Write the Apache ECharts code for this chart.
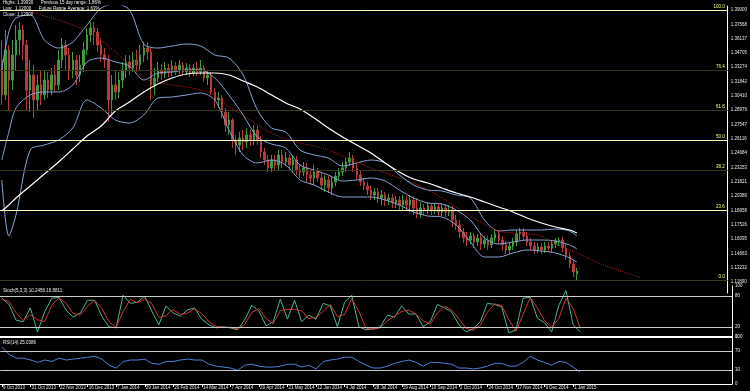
<!DOCTYPE html>
<html><head><meta charset="utf-8">
<script src="https://cdn.jsdelivr.net/npm/echarts@6/dist/echarts.min.js"></script>
<style>html,body{margin:0;padding:0;background:#000;}#c{width:750px;height:391px;}</style>
</head><body><div id="c"></div>
<script>
// ---- x axis date labels (one every 8 bars) ----
const dateLabels = ['9 Oct 2013','31 Oct 2013','22 Nov 2013','16 Dec 2013','7 Jan 2014','29 Jan 2014','20 Feb 2014','14 Mar 2014','7 Apr 2014','29 Apr 2014','21 May 2014','12 Jun 2014','4 Jul 2014','28 Jul 2014','19 Aug 2014','10 Sep 2014','2 Oct 2014','24 Oct 2014','17 Nov 2014','9 Dec 2014','1 Jan 2015'];
// ---- right price-scale tick labels ----
const priceTicks = [1.39000,1.37568,1.36137,1.34705,1.33274,1.31842,1.30410,1.28979,1.27547,1.26116,1.24684,1.23253,1.21821,1.20389,1.18958,1.17526,1.16095,1.14663,1.13232,1.11800];
// ---- candles: [open, close, low, high] ----
const candles = [
[1.340,1.305,1.295,1.360],[1.305,1.350,1.300,1.370],[1.350,1.320,1.290,1.355],[1.320,1.345,1.310,1.360],[1.345,1.360,1.330,1.375],
[1.360,1.370,1.345,1.378],[1.370,1.355,1.340,1.375],[1.355,1.310,1.290,1.360],[1.310,1.325,1.288,1.340],[1.325,1.300,1.282,1.335],
[1.300,1.315,1.290,1.325],[1.315,1.305,1.295,1.330],[1.305,1.320,1.300,1.330],[1.320,1.310,1.302,1.328],[1.310,1.325,1.305,1.332],
[1.325,1.315,1.308,1.335],[1.315,1.340,1.310,1.350],[1.340,1.355,1.332,1.362],[1.355,1.345,1.330,1.360],[1.345,1.330,1.320,1.352],
[1.330,1.340,1.322,1.348],[1.340,1.325,1.315,1.345],[1.325,1.335,1.318,1.345],[1.335,1.350,1.328,1.358],[1.350,1.365,1.345,1.372],
[1.365,1.372,1.358,1.378],[1.372,1.368,1.355,1.378],[1.368,1.355,1.348,1.372],[1.355,1.345,1.338,1.362],[1.345,1.340,1.332,1.352],
[1.340,1.300,1.278,1.345],[1.300,1.315,1.285,1.325],[1.315,1.308,1.300,1.330],[1.308,1.320,1.302,1.328],[1.320,1.330,1.312,1.338],
[1.330,1.338,1.322,1.345],[1.338,1.332,1.325,1.345],[1.332,1.340,1.328,1.348],[1.340,1.335,1.328,1.350],[1.335,1.345,1.330,1.355],
[1.345,1.352,1.338,1.358],[1.352,1.348,1.340,1.358],[1.348,1.315,1.300,1.352],[1.315,1.322,1.305,1.332],[1.322,1.330,1.318,1.338],
[1.330,1.326,1.320,1.336],[1.326,1.332,1.322,1.338],[1.332,1.328,1.323,1.336],[1.328,1.334,1.324,1.340],[1.334,1.330,1.325,1.338],
[1.330,1.335,1.326,1.340],[1.335,1.328,1.324,1.338],[1.328,1.332,1.325,1.337],[1.332,1.327,1.323,1.336],[1.327,1.332,1.324,1.336],
[1.332,1.328,1.324,1.338],[1.328,1.332,1.325,1.340],[1.332,1.322,1.318,1.335],[1.322,1.325,1.315,1.330],[1.325,1.308,1.305,1.328],
[1.308,1.300,1.292,1.312],[1.300,1.302,1.292,1.308],[1.302,1.288,1.282,1.305],[1.288,1.275,1.268,1.292],[1.275,1.280,1.265,1.288],
[1.280,1.260,1.252,1.282],[1.260,1.255,1.245,1.265],[1.255,1.262,1.248,1.268],[1.262,1.258,1.250,1.270],[1.258,1.265,1.252,1.272],
[1.265,1.260,1.254,1.270],[1.260,1.270,1.255,1.275],[1.270,1.260,1.255,1.274],[1.260,1.248,1.242,1.264],[1.248,1.240,1.235,1.252],
[1.240,1.232,1.228,1.245],[1.232,1.240,1.228,1.245],[1.240,1.235,1.230,1.245],[1.235,1.245,1.230,1.250],[1.245,1.238,1.232,1.250],
[1.238,1.242,1.234,1.248],[1.242,1.235,1.230,1.246],[1.235,1.240,1.228,1.245],[1.240,1.230,1.225,1.244],[1.230,1.228,1.222,1.235],
[1.228,1.232,1.224,1.238],[1.232,1.225,1.218,1.237],[1.225,1.222,1.215,1.230],[1.222,1.228,1.215,1.235],[1.228,1.222,1.218,1.232],
[1.222,1.215,1.210,1.228],[1.215,1.220,1.208,1.225],[1.220,1.212,1.207,1.224],[1.212,1.218,1.205,1.224],[1.218,1.224,1.214,1.228],
[1.224,1.228,1.220,1.232],[1.228,1.232,1.224,1.238],[1.232,1.238,1.228,1.242],[1.238,1.242,1.234,1.248],[1.242,1.232,1.228,1.245],
[1.232,1.225,1.220,1.236],[1.225,1.218,1.214,1.230],[1.218,1.214,1.210,1.222],[1.214,1.210,1.205,1.218],[1.210,1.205,1.200,1.214],
[1.205,1.208,1.200,1.212],[1.208,1.202,1.197,1.212],[1.202,1.205,1.195,1.210],[1.205,1.200,1.194,1.208],[1.200,1.202,1.195,1.206],
[1.202,1.197,1.192,1.206],[1.197,1.200,1.192,1.204],[1.200,1.195,1.190,1.204],[1.195,1.200,1.190,1.205],[1.200,1.195,1.190,1.204],
[1.195,1.200,1.188,1.205],[1.200,1.192,1.185,1.204],[1.192,1.186,1.182,1.202],[1.186,1.192,1.182,1.198],[1.192,1.190,1.185,1.196],
[1.190,1.194,1.186,1.198],[1.194,1.190,1.185,1.197],[1.190,1.193,1.186,1.197],[1.193,1.188,1.184,1.196],[1.188,1.192,1.184,1.197],
[1.192,1.188,1.183,1.196],[1.188,1.190,1.184,1.195],[1.190,1.180,1.173,1.194],[1.180,1.175,1.170,1.185],[1.175,1.168,1.162,1.180],
[1.168,1.162,1.157,1.172],[1.162,1.160,1.154,1.168],[1.160,1.164,1.156,1.168],[1.164,1.158,1.152,1.167],[1.158,1.162,1.154,1.166],
[1.162,1.156,1.150,1.166],[1.156,1.160,1.152,1.164],[1.160,1.155,1.150,1.164],[1.155,1.162,1.152,1.166],[1.162,1.166,1.158,1.170],
[1.166,1.160,1.156,1.170],[1.160,1.155,1.150,1.164],[1.155,1.150,1.146,1.159],[1.150,1.154,1.146,1.158],[1.154,1.158,1.150,1.162],
[1.158,1.166,1.154,1.170],[1.166,1.168,1.160,1.172],[1.168,1.164,1.160,1.172],[1.164,1.158,1.154,1.168],[1.158,1.154,1.150,1.162],
[1.154,1.150,1.146,1.158],[1.150,1.153,1.147,1.157],[1.153,1.150,1.146,1.157],[1.150,1.154,1.147,1.158],[1.154,1.152,1.148,1.158],
[1.152,1.156,1.148,1.160],[1.156,1.159,1.152,1.162],[1.159,1.160,1.154,1.163],[1.160,1.152,1.148,1.163],[1.152,1.144,1.140,1.156],
[1.144,1.136,1.132,1.148],[1.136,1.128,1.123,1.140],[1.126,1.129,1.120,1.132]
];
// ---- Bollinger bands and slow MA, read at these bar indices ----
const bandIdx = [0,2,4,8,12,16,20,24,28,32,36,40,44,48,52,56,60,64,68,72,76,80,84,88,92,96,100,104,108,112,116,120,124,128,132,136,140,144,148,152,156,160,162];
const bbUpper = [1.330,1.368,1.382,1.385,1.360,1.352,1.358,1.375,1.392,1.396,1.390,1.356,1.352,1.354,1.356,1.354,1.345,1.342,1.325,1.290,1.272,1.268,1.250,1.245,1.242,1.234,1.237,1.240,1.237,1.225,1.215,1.210,1.209,1.205,1.202,1.180,1.169,1.170,1.170,1.170,1.171,1.169,1.164];
const bbMiddle = [1.240,1.268,1.292,1.305,1.308,1.308,1.315,1.338,1.342,1.338,1.334,1.320,1.327,1.328,1.330,1.330,1.322,1.305,1.285,1.263,1.256,1.252,1.235,1.230,1.225,1.219,1.220,1.222,1.219,1.210,1.202,1.197,1.196,1.190,1.180,1.162,1.156,1.158,1.160,1.160,1.159,1.155,1.151];
const bbLower = [1.220,1.164,1.185,1.250,1.255,1.260,1.272,1.300,1.292,1.280,1.277,1.285,1.302,1.303,1.305,1.307,1.300,1.270,1.245,1.237,1.240,1.235,1.220,1.215,1.208,1.203,1.203,1.203,1.200,1.195,1.188,1.184,1.183,1.175,1.158,1.143,1.143,1.147,1.150,1.149,1.147,1.142,1.138];
const maSlow = [1.189,1.195,1.202,1.214,1.226,1.238,1.251,1.264,1.274,1.289,1.298,1.308,1.316,1.322,1.326,1.327,1.327,1.325,1.319,1.313,1.305,1.297,1.291,1.282,1.272,1.263,1.255,1.247,1.237,1.228,1.221,1.217,1.212,1.207,1.203,1.198,1.193,1.188,1.182,1.177,1.173,1.170,1.167];
// ---- forward-shifted average (dotted red) ----
const shiftIdx = [8,12,16,20,24,28,32,36,40,44,48,52,56,60,64,68,72,76,80,84,88,92,96,100,104,108,112,116,120,124,128,132,136,140,144,148,152,156,160,164,168,172,176,180];
const maShifted = [1.389,1.384,1.380,1.375,1.369,1.360,1.348,1.335,1.322,1.317,1.315,1.313,1.310,1.305,1.293,1.285,1.275,1.267,1.261,1.257,1.254,1.250,1.244,1.238,1.232,1.227,1.222,1.217,1.210,1.202,1.193,1.184,1.176,1.169,1.167,1.166,1.164,1.156,1.150,1.144,1.137,1.132,1.127,1.122];
// ---- Fibonacci retracement ----
const fibLevels = [0,23.6,38.2,50,61.8,76.4,100];
const fibBright = [23.6,50,100];
const fibLow = 1.1217, fibHigh = 1.3933;
// ---- oscillators, one reading every 2 bars ----
const oscStep = 2;
const stochK = [76,64,33,30,57,10,49,76,78,53,39,47,72,72,41,20,18,82,66,68,80,51,24,61,47,41,53,57,35,24,18,20,18,14,33,62,51,22,30,74,35,72,30,43,35,66,61,20,68,82,20,14,16,20,43,39,61,45,45,20,30,64,57,49,24,10,16,30,66,64,59,8,14,76,78,37,28,10,62,91,24,10];
const stochD = [74,70,48,32,44,34,30,62,77,66,46,43,60,72,56,30,19,50,74,67,74,66,38,42,54,44,47,55,46,30,21,19,19,16,24,48,56,36,26,52,54,54,51,36,39,50,64,40,44,75,51,17,15,18,32,41,50,53,45,32,25,47,60,53,36,17,13,23,48,65,62,34,11,45,77,57,32,19,36,76,57,17];
const rsiVals = [78,63,55,55,51,46,51,48,55,51,53,55,57,59,53,40,34,48,51,51,53,44,42,48,48,51,53,51,51,42,38,36,34,29,40,42,38,36,36,38,42,42,36,40,32,48,51,53,57,57,48,40,34,34,38,44,48,51,46,38,46,46,44,42,34,34,32,34,38,44,44,38,38,46,59,51,46,40,48,46,36,25];
const stochLevels = [20,80];
const rsiLevels = [30,70];
const stochTicks = [0,20,80,100];
const rsiTicks = [0,30,70,100];

// ---------------------------------------------------------------
const NCAT = 205;
const categories = Array.from({length: NCAT}, (_, i) => String(i));
const pairs = (idx, vals) => vals.map((v, k) => [idx[k], v]);
const oscPairs = vals => vals.map((v, k) => [k * oscStep, v]);
const lastClose = candles[candles.length - 1][1];
const FONT = 'Liberation Sans';
const FS = 4.5;

const chart = echarts.init(document.getElementById('c'), null, {renderer: 'canvas'});
const baseX = (gi) => ({
  type: 'category', gridIndex: gi, data: categories, boundaryGap: true,
  axisLine: {show: false}, axisTick: {show: false}, axisLabel: {show: false}, splitLine: {show: false}
});
const xAxes = [baseX(0), baseX(1), baseX(2)];
xAxes[1].axisLine = {show: true, lineStyle: {color: '#ffffff', width: 2}};
xAxes[2].axisLine = {show: true, lineStyle: {color: '#ffffff', width: 1}};
xAxes[2].axisTick = {show: true, alignWithLabel: true, length: 3, lineStyle: {color: '#ffffff'},
  interval: (i) => i % 8 === 0 && i / 8 < dateLabels.length};
xAxes[2].axisLabel = {show: true, interval: 7, align: 'left', margin: 1, padding: [0, 0, 0, 1],
  color: '#e8e8e8', fontSize: FS, fontFamily: FONT,
  formatter: (v, i) => (i % 8 === 0 && dateLabels[i / 8]) ? dateLabels[i / 8] : ''};

const yBase = (gi, min, max, ticks, fmt) => ({
  type: 'value', gridIndex: gi, position: 'right', min: min, max: max,
  axisLine: {show: true, lineStyle: {color: '#ffffff', width: 1}},
  axisTick: {show: false, customValues: ticks},
  axisLabel: {show: true, customValues: ticks, formatter: fmt, margin: 3, color: '#e8e8e8', fontSize: FS, fontFamily: FONT},
  splitLine: {show: false}
});

const fibData = fibLevels.map(L => ({
  yAxis: fibLow + (fibHigh - fibLow) * L / 100,
  lineStyle: {color: fibBright.includes(L) ? '#ffffb4' : '#3a3a16', width: 1, type: 'solid'},
  label: {show: true, position: 'insideEndTop', distance: [3, 1], formatter: L.toFixed(1),
          color: '#ffff8c', fontSize: FS, fontFamily: FONT}
}));
fibData.push({
  yAxis: lastClose, lineStyle: {opacity: 0},
  label: {show: true, position: 'end', distance: 2, formatter: lastClose.toFixed(5), backgroundColor: '#ffffff',
          color: '#000000', fontSize: FS, fontFamily: FONT, padding: [1, 2]}
});

const levelLines = (levels) => ({
  silent: true, symbol: 'none', animation: false,
  lineStyle: {color: '#c8c8c8', width: 1, type: 'solid'},
  label: {show: false},
  data: levels.map(v => ({yAxis: v}))
});

const lineS = (name, xi, yi, data, color, width, extra) => Object.assign({
  name, type: 'line', xAxisIndex: xi, yAxisIndex: yi, data, showSymbol: false, symbol: 'none',
  smooth: 0.3, lineStyle: {color, width}, itemStyle: {color}, silent: true, z: 3
}, extra || {});

const ttl = {color: '#f0f0f0', fontSize: FS, fontFamily: FONT, fontWeight: 'normal', lineHeight: 6};
chart.setOption({
  animation: false,
  backgroundColor: '#000000',
  title: [
    {left: 3, top: 0, padding: 0, text: 'Highs: 1.39930      Previous 15 day range: 1.86%\nLow:  1.12000      Future Range Average: 1.63%\nClose: 1.12900', textStyle: ttl},
    {left: 3, top: 288, padding: 0, text: 'Stoch(5,3,3) 10.2456 16.8811', textStyle: ttl},
    {left: 3, top: 340, padding: 0, text: 'RSI(14) 25.0386', textStyle: ttl}
  ],
  grid: [
    {left: 0, top: 6, width: 732, height: 287},
    {left: 0, top: 286, width: 732, height: 51},
    {left: 0, top: 337, width: 732, height: 47}
  ],
  xAxis: xAxes,
  yAxis: [
    yBase(0, 1.107, 1.394, priceTicks, v => v.toFixed(5)),
    yBase(1, 0, 100, stochTicks, v => String(v)),
    yBase(2, 0, 100, rsiTicks, v => String(v))
  ],
  series: [
    {
      name: 'price', type: 'candlestick', xAxisIndex: 0, yAxisIndex: 0, data: candles, barWidth: 2, z: 2,
      itemStyle: {color: '#3d9a3d', color0: '#b83a3a', borderColor: '#3d9a3d', borderColor0: '#b83a3a', borderWidth: 1},
      markLine: {silent: true, symbol: 'none', animation: false, data: fibData}
    },
    lineS('bbUpper', 0, 0, pairs(bandIdx, bbUpper), '#86a3d6', 1),
    lineS('bbMiddle', 0, 0, pairs(bandIdx, bbMiddle), '#86a3d6', 1),
    lineS('bbLower', 0, 0, pairs(bandIdx, bbLower), '#86a3d6', 1),
    lineS('maShifted', 0, 0, pairs(shiftIdx, maShifted), '#a82222', 1, {lineStyle: {color: '#a82222', width: 1, type: 'dotted'}}),
    lineS('maSlow', 0, 0, pairs(bandIdx, maSlow), '#ffffff', 1.2, {z: 4}),
    lineS('stochK', 1, 1, oscPairs(stochK), '#4fb592', 1, {smooth: false, markLine: levelLines(stochLevels)}),
    lineS('stochD', 1, 1, oscPairs(stochD), '#d23636', 1, {smooth: false}),
    lineS('rsi', 2, 2, oscPairs(rsiVals), '#4f7fd6', 1, {smooth: false, markLine: levelLines(rsiLevels)})
  ]
});
</script>
</body></html>
